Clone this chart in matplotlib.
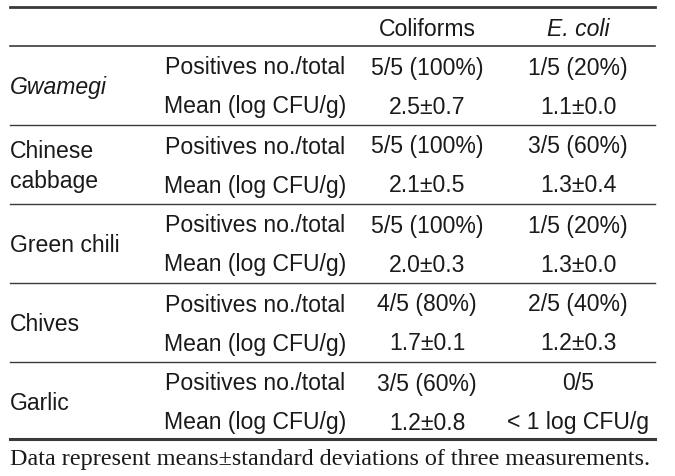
import matplotlib.pyplot as plt

groups = ['Gwamegi', 'Chinese\ncabbage', 'Green chili', 'Chives', 'Garlic']
measures = ['Positives no./total', 'Mean (log CFU/g)']
coliforms = ['5/5 (100%)', '2.5±0.7', '5/5 (100%)', '2.1±0.5', '5/5 (100%)', '2.0±0.3',
             '4/5 (80%)', '1.7±0.1', '3/5 (60%)', '1.2±0.8']
ecoli = ['1/5 (20%)', '1.1±0.0', '3/5 (60%)', '1.3±0.4', '1/5 (20%)', '1.3±0.0',
         '2/5 (40%)', '1.2±0.3', '0/5', '< 1 log CFU/g']
footnote = 'Data represent means±standard deviations of three measurements.'

plt.rcParams['font.family'] = ['Liberation Sans', 'DejaVu Sans']
fig = plt.figure(figsize=(6.75, 4.76), dpi=100)
ax = fig.add_axes([0, 0, 1, 1])
ax.set_xlim(0, 675)
ax.set_ylim(476, 0)
ax.axis('off')

tc = '#1a1a1a'
lc = '#3a3a3a'
x0, x1 = 10, 655
fs = 16.6

# header
ax.plot([x0, x1], [7, 7], color=lc, lw=2.0)
ax.text(427, 30, 'Coliforms', ha='center', va='center', fontsize=fs, color=tc)
ax.text(578, 30, 'E. coli', ha='center', va='center', fontsize=fs, color=tc, style='italic')
ax.plot([x0, x1], [46, 46], color=lc, lw=1.2)

top = 46
h = 79
for i, g in enumerate(groups):
    ya = top + i * h + 22
    yb = ya + 39
    ax.text(x0, (ya + yb) / 2, g, ha='left', va='center', fontsize=fs, color=tc,
            style='italic' if i == 0 else 'normal', linespacing=1.38)
    for j, y in enumerate([ya, yb]):
        ax.text(255, y, measures[j], ha='center', va='center', fontsize=fs, color=tc)
        ax.text(427, y, coliforms[2 * i + j], ha='center', va='center', fontsize=fs, color=tc)
        ax.text(578, y, ecoli[2 * i + j], ha='center', va='center', fontsize=fs, color=tc)
    yl = top + (i + 1) * h
    if i < len(groups) - 1:
        ax.plot([x0, x1], [yl, yl], color=lc, lw=1.0)
    else:
        ax.plot([x0, x1], [yl - 2, yl - 2], color=lc, lw=2.2)

ax.text(x0, 459, footnote, ha='left', va='center', fontsize=17.4, color=tc,
        family='Liberation Serif')

fig.savefig('out.png', dpi=100)
